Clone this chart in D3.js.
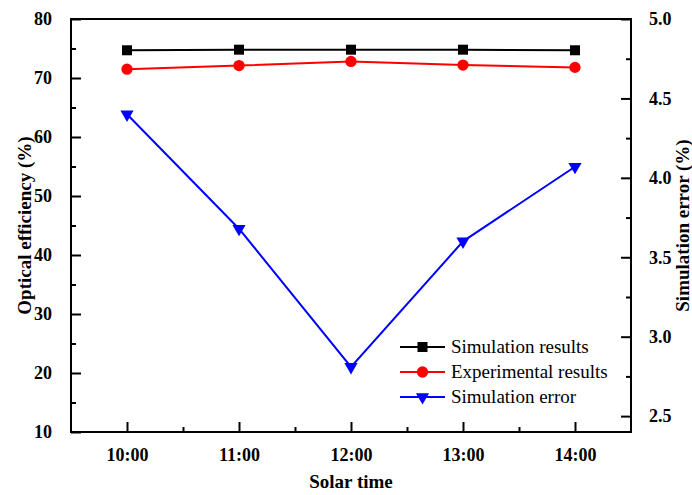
<!DOCTYPE html>
<html>
<head>
<meta charset="utf-8">
<script src="https://cdn.jsdelivr.net/npm/d3@7"></script>
<style>
  body { margin: 0; background: #fff; }
  svg text { font-family: "Liberation Serif", "Times New Roman", serif; }
</style>
</head>
<body>
<svg id="chart" width="692" height="495"></svg>
<script>
// data
var times = ["10:00", "11:00", "12:00", "13:00", "14:00"];
var hours = [10, 11, 12, 13, 14];
var simResults = [74.7, 74.8, 74.8, 74.8, 74.7];
var expResults = [71.5, 72.1, 72.8, 72.2, 71.8];
var simError = [4.40, 3.68, 2.81, 3.60, 4.07];

var leftTicks = [10, 20, 30, 40, 50, 60, 70, 80];
var rightTicks = [2.5, 3.0, 3.5, 4.0, 4.5, 5.0];

var svg = d3.select('#chart');
// plot box (note: "top" is reserved on window, so use other names)
var pLeft = 71, pRight = 631, pTop = 19, pBottom = 432;

var x = d3.scaleLinear().domain([9.5, 14.5]).range([pLeft, pRight]);
var yL = d3.scaleLinear().domain([10, 80]).range([pBottom, pTop]);
var yR = d3.scaleLinear().domain([2.4, 5.0]).range([pBottom, pTop]);

// frame
svg.append('rect')
    .attr('x', pLeft).attr('y', pTop)
    .attr('width', pRight - pLeft).attr('height', pBottom - pTop)
    .attr('fill', 'none').attr('stroke', '#000').attr('stroke-width', 2);

// axes - ticks point inward
var xAxis = svg.append('g').attr('transform', 'translate(0,' + pBottom + ')')
    .call(d3.axisBottom(x).tickValues(hours).tickSize(-10).tickPadding(16)
        .tickFormat(function (d, i) { return times[i]; }));
xAxis.append('g').call(d3.axisBottom(x).tickValues([10.5, 11.5, 12.5, 13.5]).tickSize(-5).tickFormat(''));

var lAxis = svg.append('g').attr('transform', 'translate(' + pLeft + ',0)')
    .call(d3.axisLeft(yL).tickValues(leftTicks).tickSize(-10).tickPadding(19).tickFormat(d3.format('d')));
lAxis.append('g').call(d3.axisLeft(yL).tickValues([15, 25, 35, 45, 55, 65, 75]).tickSize(-5).tickFormat(''));

var rAxis = svg.append('g').attr('transform', 'translate(' + pRight + ',0)')
    .call(d3.axisRight(yR).tickValues(rightTicks).tickSize(-10).tickPadding(18).tickFormat(d3.format('.1f')));
rAxis.append('g').call(d3.axisRight(yR).tickValues([2.75, 3.25, 3.75, 4.25, 4.75]).tickSize(-5).tickFormat(''));

svg.selectAll('.domain').remove();
svg.selectAll('.tick line').attr('stroke', '#000').attr('stroke-width', 2);
svg.selectAll('.tick text')
    .attr('fill', '#000')
    .style('font-size', '18px')
    .style('font-weight', 'bold');

// axis titles
svg.append('text')
    .attr('transform', 'translate(31,' + (pTop + pBottom) / 2 + ') rotate(-90)')
    .attr('text-anchor', 'middle')
    .style('font-size', '19px').style('font-weight', 'bold')
    .text('Optical efficiency (%)');

svg.append('text')
    .attr('transform', 'translate(689,' + (pTop + pBottom) / 2 + ') rotate(-90)')
    .attr('text-anchor', 'middle')
    .style('font-size', '19px').style('font-weight', 'bold')
    .text('Simulation error (%)');

svg.append('text')
    .attr('x', (pLeft + pRight) / 2).attr('y', 488)
    .attr('text-anchor', 'middle')
    .style('font-size', '19px').style('font-weight', 'bold')
    .text('Solar time');

// series
var series = [
    { name: 'Simulation results', values: simResults, y: yL, color: '#000', symbol: d3.symbolSquare, size: 100 },
    { name: 'Experimental results', values: expResults, y: yL, color: '#ff0000', symbol: d3.symbolCircle, size: 100 },
    { name: 'Simulation error', values: simError, y: yR, color: '#0000ff', symbol: d3.symbolTriangle, size: 75, flip: true }
];

series.forEach(function (s) {
    var line = d3.line()
        .x(function (d, i) { return x(hours[i]); })
        .y(function (d) { return s.y(d); });
    svg.append('path')
        .datum(s.values)
        .attr('d', line)
        .attr('fill', 'none')
        .attr('stroke', s.color)
        .attr('stroke-width', 2);
    svg.selectAll(null)
        .data(s.values)
        .enter().append('path')
        .attr('d', d3.symbol().type(s.symbol).size(s.size))
        .attr('transform', function (d, i) {
            return 'translate(' + x(hours[i]) + ',' + s.y(d) + ')' + (s.flip ? ' rotate(180)' : '');
        })
        .attr('fill', s.color);
});

// legend
var legend = svg.append('g').attr('transform', 'translate(400,347)');
series.forEach(function (s, i) {
    var row = legend.append('g').attr('transform', 'translate(0,' + i * 25 + ')');
    row.append('line')
        .attr('x1', 0).attr('x2', 45)
        .attr('stroke', s.color).attr('stroke-width', 2);
    row.append('path')
        .attr('d', d3.symbol().type(s.symbol).size(s.size))
        .attr('transform', 'translate(22.5,0)' + (s.flip ? ' rotate(180)' : ''))
        .attr('fill', s.color);
    row.append('text')
        .attr('x', 51).attr('y', 6)
        .style('font-size', '19px')
        .text(s.name);
});
</script>
</body>
</html>
